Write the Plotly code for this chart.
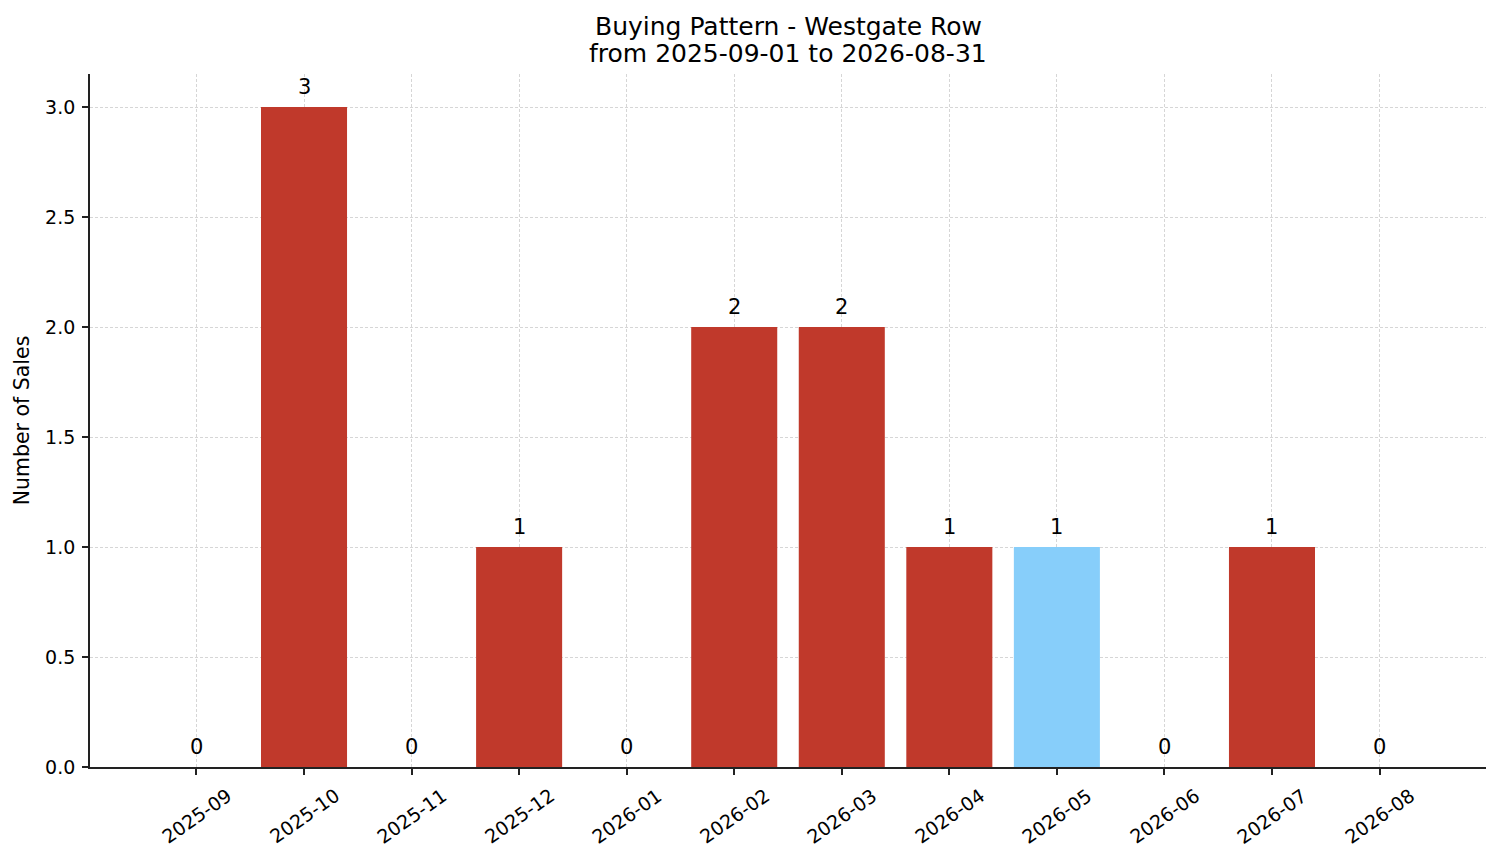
import plotly.graph_objects as go

# data
months = ["2025-09", "2025-10", "2025-11", "2025-12", "2026-01", "2026-02",
          "2026-03", "2026-04", "2026-05", "2026-06", "2026-07", "2026-08"]
sales = [0, 3, 0, 1, 0, 2, 2, 1, 1, 0, 1, 0]
highlight_month = "2026-05"
title_lines = ["Buying Pattern - Westgate Row", "from 2025-09-01 to 2026-08-31"]

RED = "#c0392b"
BLUE = "#87cefa"
FONT = "DejaVu Sans"

colors = [BLUE if m == highlight_month else RED for m in months]
xpos = list(range(len(months)))

fig = go.Figure()
fig.add_trace(go.Bar(
    x=xpos,
    y=sales,
    width=0.8,
    marker=dict(color=colors, line=dict(width=0)),
    hoverinfo="skip",
))

# value labels above each bar
for i, v in zip(xpos, sales):
    fig.add_annotation(
        x=i, y=v, text=str(v), showarrow=False,
        xanchor="center", yanchor="bottom", yshift=6,
        font=dict(family=FONT, size=21, color="#000000"),
    )

# rotated month labels, centred on the ticks like matplotlib
for i, m in zip(xpos, months):
    fig.add_annotation(
        x=i, y=0, xref="x", yref="paper", text=m, showarrow=False,
        textangle=-35, xanchor="center", yanchor="middle", yshift=-49,
        font=dict(family=FONT, size=19, color="#000000"),
    )

# two-line title, placed over the plot area
for line, shift in zip(title_lines, [48, 21]):
    fig.add_annotation(
        x=0.5, y=1, xref="paper", yref="paper", text=line, showarrow=False,
        xanchor="center", yanchor="middle", yshift=shift,
        font=dict(family=FONT, size=25, color="#000000"),
    )

grid = dict(showgrid=True, gridcolor="#d6d6d6", griddash="3px,2px", gridwidth=1)

fig.update_layout(
    width=1501, height=863,
    paper_bgcolor="white", plot_bgcolor="white",
    margin=dict(l=90, r=15, t=74, b=96),
    showlegend=False,
    font=dict(family=FONT, size=19, color="#000000"),
    xaxis=dict(
        range=[-0.99, 11.99], tickmode="array", tickvals=xpos,
        showticklabels=False, ticks="outside", ticklen=6, tickwidth=1.5,
        tickcolor="#222222", showline=True, linecolor="#222222", linewidth=1.8,
        zeroline=False, layer="above traces", **grid,
    ),
    yaxis=dict(
        range=[0, 3.15], tickmode="array",
        tickvals=[0, 0.5, 1, 1.5, 2, 2.5, 3],
        ticktext=["0.0", "0.5", "1.0", "1.5", "2.0", "2.5", "3.0"],
        ticks="outside", ticklen=6, tickwidth=1.5, tickcolor="#222222",
        ticklabelstandoff=3,
        showline=True, linecolor="#222222", linewidth=1.8, zeroline=False,
        title=dict(text="Number of Sales", font=dict(family=FONT, size=20.5), standoff=10),
        layer="above traces", **grid,
    ),
)

fig.write_html("out.html", config={"displayModeBar": False},
               post_script="document.body.style.margin = '0';")
